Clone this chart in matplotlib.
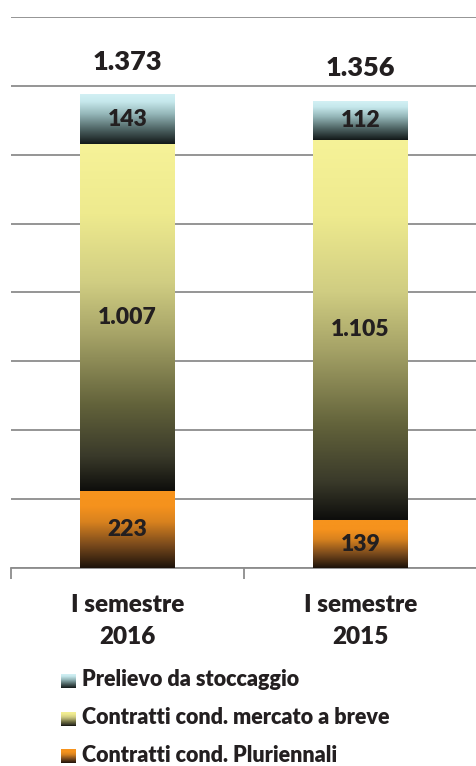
import matplotlib.pyplot as plt
import numpy as np
from matplotlib.colors import LinearSegmentedColormap

plt.rcParams['font.family'] = ['Lato', 'DejaVu Sans']

categories = ['I semestre\n2016', 'I semestre\n2015']
pluriennali = [223, 139]
breve = [1007, 1105]
stoccaggio = [143, 112]
totals = [1373, 1356]
series_names = ['Contratti cond. Pluriennali',
                'Contratti cond. mercato a breve',
                'Prelievo da stoccaggio']

def fmt(v):
    return '{:,}'.format(v).replace(',', '.')

# gradients bottom -> top
cm_orange = LinearSegmentedColormap.from_list('o', [
    (0.0, '#1c120a'), (0.3, '#7a4a1c'), (0.6, '#d8821f'),
    (0.8, '#f5921d'), (1.0, '#f7941d')])
cm_yellow = LinearSegmentedColormap.from_list('y', [
    (0.0, '#0e0e0c'), (0.1, '#3a3a2a'), (0.25, '#63633b'),
    (0.45, '#a6a367'), (0.6, '#d0cd82'), (0.8, '#eeea8e'), (1.0, '#f6f298')])
cm_cyan = LinearSegmentedColormap.from_list('c', [
    (0.0, '#121818'), (0.3, '#4f6565'), (0.6, '#94b6b8'),
    (0.85, '#c6e8ec'), (1.0, '#d2f0f4')])
cmaps = [cm_orange, cm_yellow, cm_cyan]

grad = np.linspace(0, 1, 256).reshape(-1, 1)
W = 'heavy'
ink = '#231f20'

fig = plt.figure(figsize=(4.77, 7.66), dpi=100)
ax = fig.add_axes([0.023, 0.2585, 0.977, 0.7193])

x = np.arange(len(categories))
width = 0.404
bottoms = np.zeros(len(categories))
for vals, cmap in zip([pluriennali, breve, stoccaggio], cmaps):
    bars = ax.bar(x, vals, width, bottom=bottoms, color='none', zorder=3)
    for b, v in zip(bars, vals):
        x0, y0 = b.get_x(), b.get_y()
        ax.imshow(grad, cmap=cmap, origin='lower', aspect='auto',
                  extent=(x0, x0 + b.get_width(), y0, y0 + b.get_height()),
                  zorder=3)
        ax.text(x0 + b.get_width() / 2, y0 + b.get_height() / 2, fmt(v),
                ha='center', va='center', fontsize=16.5, fontweight=W,
                color=ink, zorder=4)
    bottoms += np.array(vals)

for xi, t in zip(x, totals):
    ax.text(xi, t + 95, fmt(t), ha='center', va='center', fontsize=19.5,
            fontweight=W, color=ink)

ax.set_xlim(-0.5, 1.5)
ax.set_ylim(0, 1600)
ax.set_yticks(np.arange(0, 1601, 200))
ax.yaxis.grid(True, color='#8c8c8c', linewidth=1.3, zorder=0)
ax.set_axisbelow(True)
ax.tick_params(axis='y', left=False, labelleft=False)
for s in ['top', 'right', 'left']:
    ax.spines[s].set_visible(False)
ax.spines['bottom'].set_color('#8c8c8c')
ax.spines['bottom'].set_linewidth(1.3)
ax.set_xticks([-0.5, 0.5, 1.5])
ax.set_xticklabels([])
ax.tick_params(axis='x', length=8, color='#8c8c8c', width=1.3)
for xi, c in zip(x, categories):
    ax.text(xi, -153, c, ha='center', va='center', fontsize=17.5,
            fontweight=W, color=ink, linespacing=1.55, clip_on=False)

# legend (top entry first)
leg_y = [680, 718, 755]
for yy, name, cmap in zip(leg_y, series_names[::-1], cmaps[::-1]):
    lax = fig.add_axes([61 / 477, 1 - (yy + 8) / 766, 15 / 477, 14 / 766])
    lax.imshow(grad, cmap=cmap, origin='lower', aspect='auto')
    lax.axis('off')
    fig.text(82 / 477, 1 - yy / 766, name, ha='left', va='center',
             fontsize=15.5, fontweight=W, color=ink)

fig.savefig('out.png', dpi=100)
